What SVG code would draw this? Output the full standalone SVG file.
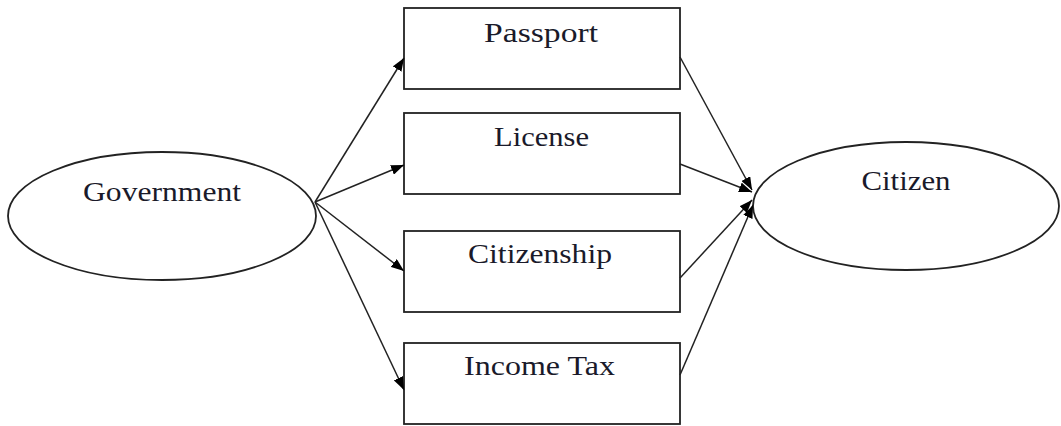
<svg xmlns="http://www.w3.org/2000/svg" width="1061" height="426" viewBox="0 0 1061 426">
<style>
.shape{fill:#fff;stroke:#222;stroke-width:1.8}
.lbl{font-family:"Liberation Serif","Times New Roman",serif;font-size:27px;fill:#1a1a2a;text-anchor:middle}
.conn{stroke:#222;stroke-width:1.5;fill:none;marker-end:url(#ah)}
</style>
<defs>
<marker id="ah" viewBox="0 0 13 10" refX="13" refY="5" markerWidth="13" markerHeight="10" markerUnits="userSpaceOnUse" orient="auto">
<path d="M0,0 L13,5 L0,10 Z" fill="#000"/>
</marker>
</defs>
<rect width="1061" height="426" fill="#fff"/>
<g id="government">
<ellipse class="shape" cx="162" cy="216" rx="154" ry="64"/>
<text class="lbl" x="162" y="201" textLength="158" lengthAdjust="spacingAndGlyphs">Government</text>
</g>
<g id="passport">
<rect class="shape" x="404" y="8" width="276" height="81"/>
<text class="lbl" x="541" y="42" textLength="114" lengthAdjust="spacingAndGlyphs">Passport</text>
</g>
<g id="license">
<rect class="shape" x="404" y="113" width="276" height="81"/>
<text class="lbl" x="541.5" y="146" textLength="95" lengthAdjust="spacingAndGlyphs">License</text>
</g>
<g id="citizenship">
<rect class="shape" x="404" y="231" width="276" height="81"/>
<text class="lbl" x="540" y="263" textLength="144" lengthAdjust="spacingAndGlyphs">Citizenship</text>
</g>
<g id="incometax">
<rect class="shape" x="404" y="343" width="276" height="81"/>
<text class="lbl" x="539.5" y="375" textLength="151" lengthAdjust="spacingAndGlyphs">Income Tax</text>
</g>
<g id="citizen">
<ellipse class="shape" cx="906" cy="206" rx="153" ry="64"/>
<text class="lbl" x="906" y="190" textLength="89" lengthAdjust="spacingAndGlyphs">Citizen</text>
</g>
<g id="connectors">
<line class="conn" x1="315" y1="202" x2="404" y2="58"/>
<line class="conn" x1="315" y1="202" x2="404" y2="165"/>
<line class="conn" x1="315" y1="202" x2="404" y2="271"/>
<line class="conn" x1="315" y1="202" x2="404" y2="390"/>
<line class="conn" x1="680" y1="57" x2="752" y2="190"/>
<line class="conn" x1="680" y1="164" x2="752" y2="192"/>
<line class="conn" x1="680" y1="278" x2="752" y2="200"/>
<line class="conn" x1="680" y1="375" x2="753" y2="205"/>
</g>
</svg>
